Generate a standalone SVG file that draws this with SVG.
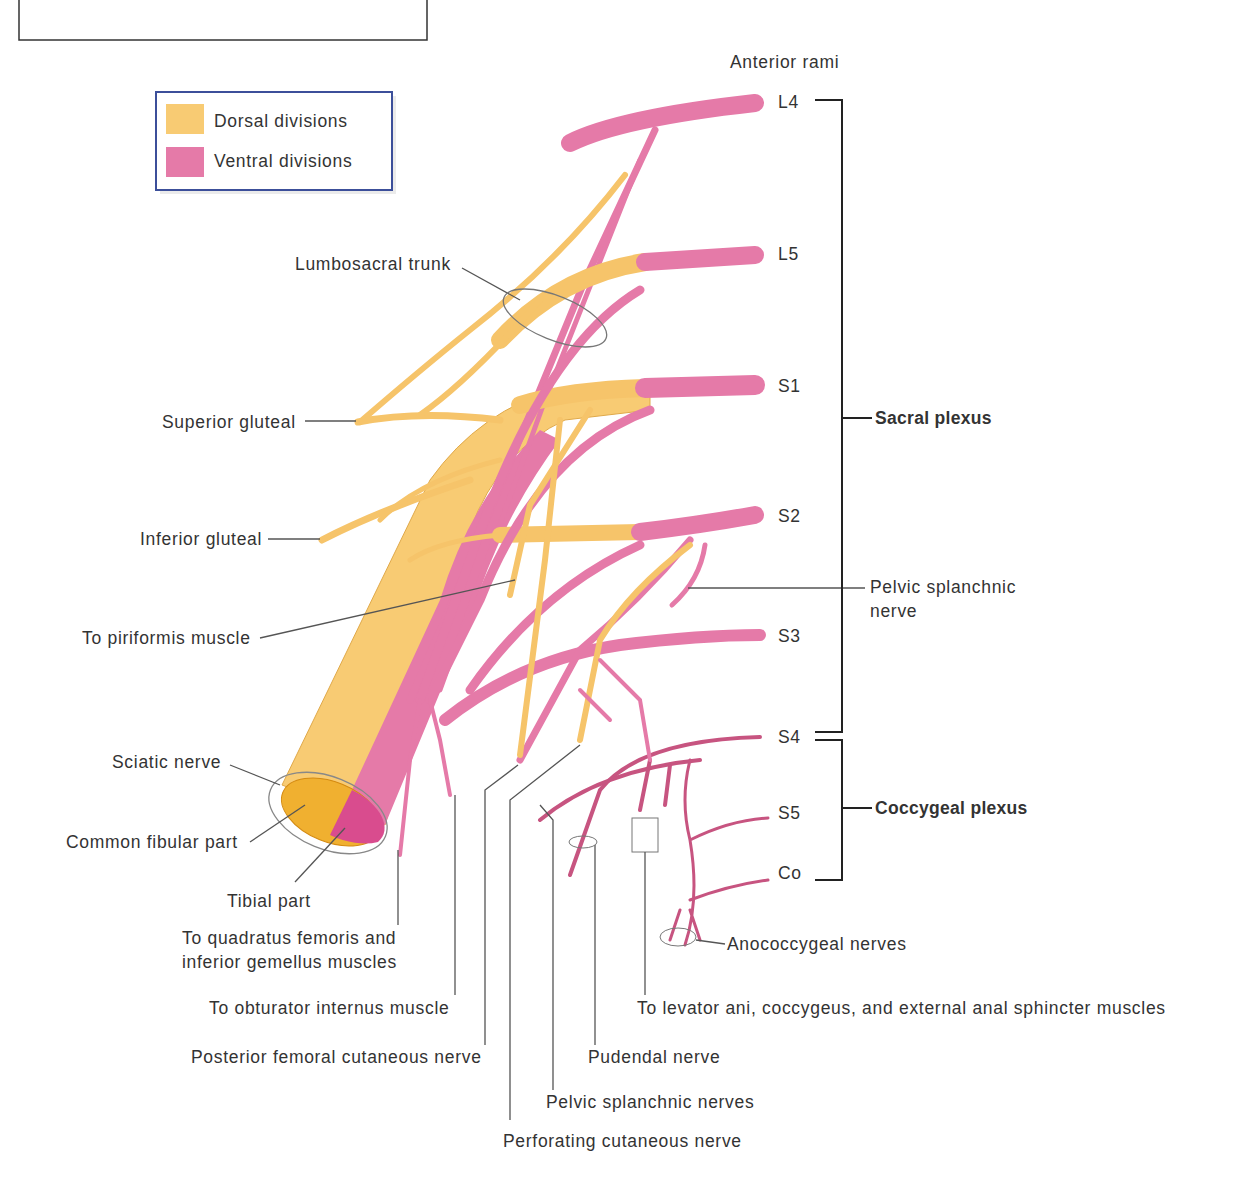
<svg xmlns="http://www.w3.org/2000/svg" width="1244" height="1200" viewBox="0 0 1244 1200">
<style>
text{font-family:"Liberation Sans",Arial,sans-serif;font-size:17.5px;letter-spacing:0.7px;fill:#333}
.b{font-weight:bold;letter-spacing:0.3px}
.y{fill:none;stroke:#f6c46a;stroke-linecap:round}
.yf{fill:#f8cb73;stroke:#e0a94a;stroke-width:1}
.p{fill:none;stroke:#e57aa8;stroke-linecap:round}
.pd{fill:none;stroke:#c75480;stroke-linecap:round}
.ld{fill:none;stroke:#555;stroke-width:1.3}
.br{fill:none;stroke:#222;stroke-width:2}
</style>
<rect width="1244" height="1200" fill="#fff"/>
<rect x="19" y="-5" width="408" height="45" fill="none" stroke="#333" stroke-width="1.5"/>
<g id="legend">
<rect x="160" y="96" width="236" height="98" fill="#ddd" opacity="0.6"/>
<rect x="156" y="92" width="236" height="98" fill="#fff" stroke="#3c4f9a" stroke-width="2"/>
<rect x="166" y="104" width="38" height="30" fill="#f8cb73"/>
<rect x="166" y="147" width="38" height="30" fill="#e57aa8"/>
<text x="214" y="127">Dorsal divisions</text>
<text x="214" y="167">Ventral divisions</text>
</g>
<g id="plexus">
<path class="yf" d="M282 785 L430 480 Q480 410 560 388 L650 382 L650 410 L565 420 Q500 450 470 530 L385 825 Z"/>
<path d="M345 805 L440 600 Q470 500 540 430 L560 440 Q500 520 470 620 L385 825 Z" fill="#e57aa8"/>
<ellipse cx="331" cy="812" rx="52" ry="30" transform="rotate(22 331 812)" fill="#f0b030" stroke="#d48a10"/>
<path d="M352 790 A52 30 22 0 1 378 842 A52 30 22 0 1 330 835 Z" fill="#d94c8e"/>
<ellipse cx="328" cy="813" rx="62" ry="36" transform="rotate(22 328 813)" fill="none" stroke="#888" stroke-width="1.3"/>
<path class="p" stroke-width="18" d="M570 143 Q620 118 755 103"/>
<path class="p" stroke-width="7" d="M655 130 L585 280 L470 560 L410 700"/>
<path class="p" stroke-width="5" d="M640 160 L545 400 L440 690"/>
<path class="y" stroke-width="6" d="M625 175 Q560 260 470 330 Q420 370 360 422"/>
<path class="y" stroke-width="18" d="M500 340 Q560 275 645 262"/>
<path class="p" stroke-width="18" d="M645 262 L755 255"/>
<path class="y" stroke-width="18" d="M520 405 Q570 390 645 388"/>
<path class="p" stroke-width="20" d="M645 388 L755 385"/>
<path class="y" stroke-width="16" d="M500 535 L640 532"/>
<path class="p" stroke-width="18" d="M640 532 Q700 525 755 515"/>
<path class="p" stroke-width="9" d="M640 290 Q540 350 470 560 L420 700"/>
<path class="p" stroke-width="9" d="M650 410 Q540 450 480 600 L430 700"/>
<path class="p" stroke-width="9" d="M640 545 Q540 590 470 690"/>
<path class="p" stroke-width="12" d="M445 720 Q520 660 620 645 Q700 635 760 635"/>
<path class="p" stroke-width="7" d="M690 540 Q640 600 580 650 L520 760"/>
<path class="y" stroke-width="6" d="M520 755 L545 560 L560 420"/>
<path class="y" stroke-width="6" d="M580 740 L600 640 Q630 590 690 545"/>
<path class="y" stroke-width="6" d="M510 595 L530 505 L590 410"/>
<path class="p" stroke-width="5" d="M705 545 Q700 580 672 605"/>
<path class="y" stroke-width="7" d="M358 422 Q420 410 500 420"/>
<path class="y" stroke-width="6" d="M420 415 Q470 380 540 300"/>
<path class="y" stroke-width="7" d="M322 540 Q380 510 470 480"/>
<path class="y" stroke-width="5" d="M380 520 Q420 480 500 460"/>
<path class="y" stroke-width="5" d="M410 560 Q440 540 500 535"/>
<path class="p" stroke-width="4" d="M400 855 L410 760 L420 700"/>
<path class="p" stroke-width="4" d="M450 795 L440 740 L430 700"/>
<path class="pd" stroke-width="4" d="M570 875 L600 790 Q640 740 760 737"/>
<path class="pd" stroke-width="4" d="M540 820 Q600 770 700 760"/>
<path class="pd" stroke-width="4" d="M640 810 L650 760 M665 805 L670 765"/>
<path class="pd" stroke-width="3" d="M690 760 Q680 800 690 840 Q700 900 685 945 M690 840 Q730 820 768 818 M690 900 Q730 885 768 880 M680 910 L670 940 M690 910 L700 940"/>
<path class="p" stroke-width="4" d="M580 690 L610 720 M600 660 L640 700 L650 760"/>
</g>
<g id="connectors">
<path class="ld" d="M462 268 L520 300"/>
<ellipse cx="555" cy="318" rx="55" ry="22" transform="rotate(22 555 318)" fill="none" stroke="#777" stroke-width="1.3"/>
<path class="ld" d="M305 421 L356 421"/>
<path class="ld" d="M268 539 L320 539"/>
<path class="ld" d="M260 638 L515 580"/>
<path class="ld" d="M230 765 L280 785"/>
<path class="ld" d="M250 842 L305 805"/>
<path class="ld" d="M295 882 L345 828"/>
<path class="ld" d="M398 925 L398 850"/>
<path class="ld" d="M455 995 L455 795"/>
<path class="ld" d="M485 1045 L485 790 L518 765"/>
<path class="ld" d="M510 1120 L510 800 L580 745"/>
<path class="ld" d="M553 1090 L553 820 L540 805"/>
<path class="ld" d="M595 1045 L595 845"/>
<ellipse cx="583" cy="842" rx="14" ry="6" fill="none" stroke="#777"/>
<rect x="632" y="818" width="26" height="34" fill="#fff" stroke="#777"/>
<path class="ld" d="M645 995 L645 852"/>
<ellipse cx="678" cy="937" rx="18" ry="9" fill="none" stroke="#777"/>
<path class="ld" d="M696 940 L725 944"/>
<path class="ld" d="M688 588 L865 588"/>
</g>
<g id="brackets">
<path class="br" d="M815 100 H842 V732 H815 M842 418 H872"/>
<path class="br" d="M815 740 H842 V880 H815 M842 808 H872"/>
</g>
<g id="labels">
<text x="730" y="68">Anterior rami</text>
<text x="778" y="108">L4</text>
<text x="778" y="260">L5</text>
<text x="778" y="392">S1</text>
<text x="778" y="522">S2</text>
<text x="778" y="642">S3</text>
<text x="778" y="743">S4</text>
<text x="778" y="819">S5</text>
<text x="778" y="879">Co</text>
<text x="875" y="424" class="b">Sacral plexus</text>
<text x="875" y="814" class="b">Coccygeal plexus</text>
<text x="870" y="593">Pelvic splanchnic</text>
<text x="870" y="617">nerve</text>
<text x="295" y="270">Lumbosacral trunk</text>
<text x="162" y="428">Superior gluteal</text>
<text x="140" y="545">Inferior gluteal</text>
<text x="82" y="644">To piriformis muscle</text>
<text x="112" y="768">Sciatic nerve</text>
<text x="66" y="848">Common fibular part</text>
<text x="227" y="907">Tibial part</text>
<text x="182" y="944">To quadratus femoris and</text>
<text x="182" y="968">inferior gemellus muscles</text>
<text x="209" y="1014">To obturator internus muscle</text>
<text x="191" y="1063">Posterior femoral cutaneous nerve</text>
<text x="503" y="1147">Perforating cutaneous nerve</text>
<text x="546" y="1108">Pelvic splanchnic nerves</text>
<text x="588" y="1063">Pudendal nerve</text>
<text x="637" y="1014">To levator ani, coccygeus, and external anal sphincter muscles</text>
<text x="727" y="950">Anococcygeal nerves</text>
</g>
</svg>
